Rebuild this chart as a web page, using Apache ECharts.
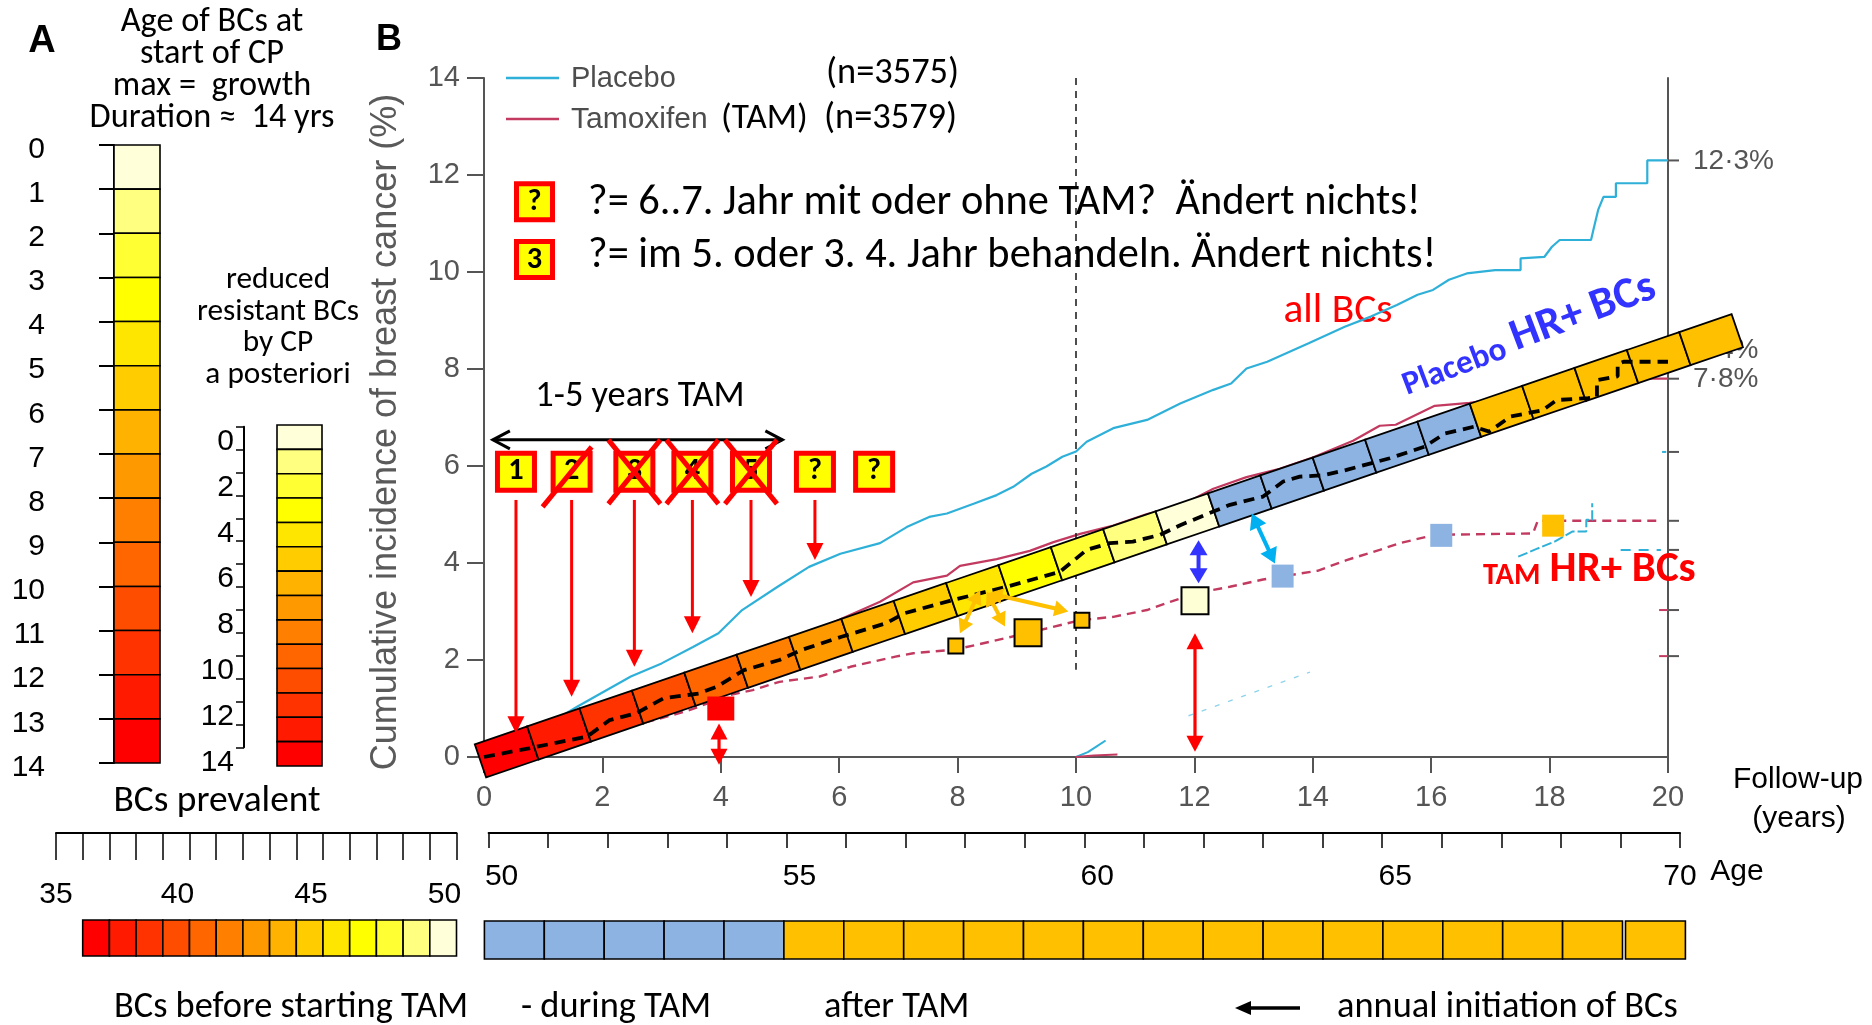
<!DOCTYPE html>
<html>
<head>
<meta charset="utf-8">
<title>Tamoxifen prevention – cumulative incidence and age of breast cancers</title>
<script src="https://cdn.jsdelivr.net/npm/echarts@6/dist/echarts.min.js"></script>
<style>
  html, body { margin: 0; padding: 0; background: #fff; }
  #chart { width: 1872px; height: 1025px; }
</style>
</head>
<body>
<div id="chart"></div>
<script>
// ---------------- Panel B: cumulative incidence of breast cancer (%) vs follow-up (years) ----------------
const followUpTicks = [0, 2, 4, 6, 8, 10, 12, 14, 16, 18, 20];

const placeboAll = [
  [0,0],[0.5,0.3],[1.0,0.62],[1.58,1.04],[1.97,1.31],[2.48,1.66],[3.0,1.93],[3.53,2.27],[3.96,2.55],
  [4.36,3.03],[4.96,3.51],[5.49,3.92],[6.02,4.19],[6.69,4.41],[7.14,4.74],[7.52,4.95],[7.82,5.02],
  [8.27,5.22],[8.66,5.4],[8.94,5.57],[9.25,5.84],[9.5,5.99],[9.77,6.19],[10.0,6.3],[10.18,6.5],
  [10.63,6.78],[11.2,6.95],[11.76,7.29],[12.32,7.57],[12.62,7.7],[12.88,8.01],[13.23,8.15],[13.93,8.53],
  [14.54,8.87],[14.98,9.08],[15.42,9.32],[15.77,9.53],[16.03,9.63],[16.3,9.84],[16.6,9.97],[17.08,10.04],
  [17.51,10.04],[17.51,10.28],[17.91,10.31],[18.04,10.52],[18.17,10.66],[18.7,10.66],[18.74,10.87],
  [18.82,11.28],[18.91,11.55],[19.12,11.55],[19.12,11.83],[19.65,11.83],[19.65,12.3],[20,12.3]
];
const tamoxifenAll = [
  [0,0],[1,0.35],[2,0.8],[3,1.25],[4,1.75],[5,2.25],[5.8,2.72],[6.69,3.2],[7.25,3.6],[7.82,3.74],
  [8.04,3.94],[8.66,4.08],[9.22,4.25],[9.62,4.43],[10.07,4.6],[10.63,4.77],[11.2,5.01],[11.76,5.18],
  [12.32,5.53],[12.88,5.77],[13.44,5.94],[14.01,6.18],[14.68,6.52],[15.13,6.83],[15.4,6.85],[16.06,7.24],
  [16.65,7.3],[17.5,7.45],[18.5,7.6],[19.64,7.8],[20,7.8]
];
// hormone-receptor positive cancers
const placeboHR = [
  [0,0],[0.76,0.18],[1.74,0.42],[2.12,0.76],[2.57,0.9],[3.03,1.21],[3.63,1.31],[3.93,1.45],[4.39,1.79],
  [4.99,2.0],[5.37,2.21],[6.04,2.48],[6.8,2.76],[7.09,2.96],[7.93,3.24],[8.83,3.51],[9.73,3.82],
  [10.18,4.27],[10.57,4.41],[10.96,4.44],[11.42,4.58],[11.76,4.78],[12.32,5.06],[12.6,5.2],[13.16,5.37],
  [13.5,5.68],[13.78,5.78],[14.18,5.81],[14.57,5.92],[15.3,6.16],[15.89,6.4],[16.23,6.67],[16.72,6.81],
  [16.98,6.71],[17.34,7.02],[17.88,7.15],[18.12,7.36],[18.65,7.4],[18.8,7.43],[18.8,7.77],[19.15,7.85],
  [19.15,8.1],[19.25,8.15],[20,8.15]
];
const tamoxifenHR = [
  [0,0],[1,0.25],[2,0.5],[3,0.8],[3.48,0.97],[4.16,1.28],[4.54,1.38],[4.99,1.55],[5.67,1.66],[6.19,1.86],
  [6.95,2.07],[7.25,2.14],[7.93,2.21],[8.31,2.31],[8.91,2.48],[9.5,2.65],[10.07,2.82],[10.63,2.89],
  [11.2,3.03],[11.59,3.2],[12.04,3.38],[12.6,3.51],[13.16,3.66],[14.08,3.84],[14.57,4.06],[15.13,4.27],
  [15.47,4.41],[16.06,4.58],[17.72,4.61],[17.8,4.87],[19.9,4.87]
];
// remnants of further curves
const placeboLowPiece   = [[10.0,0],[10.2,0.1],[10.35,0.22],[10.5,0.34]];
const tamoxifenLowPiece = [[10.0,0],[10.3,0.03],[10.7,0.05]];
const placeboTrace      = [[11.9,0.85],[13.95,1.75]];
const placeboHighPiece  = [[17.47,4.13],[17.8,4.3],[18.1,4.45],[18.39,4.65],[18.62,4.65],[18.62,4.89],[18.72,4.89],[18.72,5.23]];
const placeboEndPiece   = [[19.2,4.27],[19.88,4.27]];
const tamoxifenStubA    = [[19.85,3.03],[20,3.03]];
const tamoxifenStubB    = [[19.85,2.08],[20,2.08]];
const placeboStub       = [[19.9,6.29],[19.97,6.29]];
const landmarkYear = [[10,14],[10,1.8]];

// right-hand axis: end values at 20 years
const rightTicks  = [12.3, 8.4, 7.8, 6.29, 4.87, 4.27, 3.03, 2.08];
const rightLabels = [12.3, 8.4, 7.8];

// diagonal band: one cell per year of tumour initiation (levels 13..0 = age at start of CP)
const bandAxis  = [[-0.06, -0.08], [21.17, 8.79]];
const bandCells = [13,12,11,10,9,8,7,6,5,4,3,2,1,0,'during','during','during','during','during','after','after','after','after','after'];

// treatment-year boxes
const boxYears  = [0.54, 1.48, 2.54, 3.52, 4.51, 5.59, 6.59];
const boxLabels = ['1', '2', '3', '4', '5', '?', '?'];
const boxLevel  = 5.88;
const boxStruck = [0, 1, 2, 2, 2, 0, 0];          // 1 = single stroke, 2 = crossed out
const arrowTop  = 5.3;
const arrowTips = [0.49, 1.24, 1.86, 2.55, 3.3, 4.06];
const tamSpan   = [[0.15, 6.54, 5.04, 6.54]];

// markers and connectors
const redSquare   = [[4.0, 1.0]];
const goldSmall   = [[7.97, 2.29], [10.1, 2.82]];
const goldLarge   = [[9.19, 2.56]];
const paleSquare  = [[12.01, 3.22]];
const blueSquares = [[13.49, 3.73], [16.17, 4.57]];
const goldPlain   = [[18.06, 4.77]];
const redDouble   = [[3.97, 0.69, 3.97, -0.16], [12.01, 2.55, 12.01, 0.11]];
const blueDouble  = [[12.07, 4.47, 12.07, 3.58]];
const cyanDouble  = [[12.97, 5.02, 13.36, 3.99]];
const goldDouble  = [[8.38, 3.44, 8.04, 2.55], [8.49, 3.41, 8.8, 2.69], [8.52, 3.38, 9.87, 3.0]];

// ---------------- Panel A scales ----------------
const ageLevels        = [0,1,2,3,4,5,6,7,8,9,10,11,12,13];
const posterioriLevels = [0,1,2,3,4,5,6,7,8,9,10,11,12,13];
const prevalentAges    = [36,37,38,39,40,41,42,43,44,45,46,47,48,49];
const prevalentLevels  = [13,12,11,10,9,8,7,6,5,4,3,2,1,0];
const annualAges       = [50,51,52,53,54,55,56,57,58,59,60,61,62,63,64,65,66,67,68,69];
const annualPhases     = ['during','during','during','during','during','after','after','after','after','after',
                          'after','after','after','after','after','after','after','after','after','after'];
const detachedAge      = 69;

// ---------------- styling ----------------
const GRADIENT = ['#ffffd9','#ffff80','#ffff33','#ffff00','#ffe600','#ffcc00','#ffb300',
                  '#ff9900','#ff8000','#ff6600','#ff4d00','#ff3300','#ff1a00','#ff0000'];
const PHASE = { during: '#8db3e2', after: '#ffc000' };
const CYAN = '#2fb0d8', CRIMSON = '#c23a60', GOLD = '#ffc000', GRAY = '#555';
const ARIAL = "'Liberation Sans', Arial, Helvetica, sans-serif";
const CAL = "Carlito, Lato, 'Open Sans', sans-serif";
// Carlito shares Calibri's advance widths; any fallback face is scaled to the same widths.
const calFactor = (() => {
  const ctx = document.createElement('canvas').getContext('2d');
  ctx.font = '100px ' + CAL;
  const w = ctx.measureText('annual initiation of BCs').width;
  return Math.min(1.05, 946 / w);
})();
const cs = s => Math.round(s * calFactor * 10) / 10;
const cellColor = c => (typeof c === 'number' ? GRADIENT[c] : PHASE[c]);

// ---------------- series helpers ----------------
function lineSeries(data, color, width, dash, z) {
  return { type: 'line', xAxisIndex: 0, yAxisIndex: 0, data, symbol: 'none', showSymbol: false,
           silent: true, clip: false, z: z || 2, lineStyle: { color, width, type: dash || 'solid' } };
}
function squareSeries(data, w, h, color, bordered) {
  return { type: 'scatter', xAxisIndex: 0, yAxisIndex: 0, data, symbol: 'rect', symbolSize: [w, h],
           silent: true, z: 6, clip: false,
           itemStyle: { color, opacity: 1, borderColor: bordered ? '#000' : color, borderWidth: bordered ? 2 : 0 } };
}
function arrowSeries(list, o) {
  return {
    type: 'custom', xAxisIndex: 0, yAxisIndex: 0, silent: true, clip: false, z: o.z || 7, data: list,
    renderItem(params, api) {
      const a = api.coord([api.value(0), api.value(1)]);
      const b = api.coord([api.value(2), api.value(3)]);
      const dx = b[0] - a[0], dy = b[1] - a[1], L = Math.hypot(dx, dy);
      const ux = dx / L, uy = dy / L, nx = -uy, ny = ux;
      const head = (tip, sgn) => {
        const bx = tip[0] - sgn * ux * o.len, by = tip[1] - sgn * uy * o.len;
        const p1 = [bx + nx * o.half, by + ny * o.half], p2 = [bx - nx * o.half, by - ny * o.half];
        if (o.open) return { type: 'polyline', shape: { points: [p1, tip, p2] }, style: { stroke: o.color, lineWidth: o.width, fill: null } };
        return { type: 'polygon', shape: { points: [tip, p1, p2] }, style: { fill: o.color } };
      };
      const cut = o.open ? 0 : o.len * 0.7;
      const s0 = o.both ? cut : 0;
      const kids = [{ type: 'line', shape: { x1: a[0] + ux * s0, y1: a[1] + uy * s0, x2: b[0] - ux * cut, y2: b[1] - uy * cut },
                      style: { stroke: o.color, lineWidth: o.width } }, head(b, 1)];
      if (o.both) kids.push(head(a, -1));
      return { type: 'group', children: kids };
    }
  };
}
// colour cells of a scale strip (vertical: value along y; horizontal: value along x)
function cellSeries(xIdx, yIdx, items, vertical, colorOf) {
  return {
    type: 'custom', xAxisIndex: xIdx, yAxisIndex: yIdx, silent: true, clip: false, z: 3,
    data: items.map((d, i) => [d, i]),
    renderItem(params, api) {
      const v = api.value(0), i = params.dataIndex;
      let p0, p1;
      if (vertical) { p0 = api.coord([0, v]); p1 = api.coord([1, v + 1]); }
      else { p0 = api.coord([v, 0]); p1 = api.coord([v + 1, 1]); }
      const shift = (!vertical && v >= detachedAge && xIdx === 7) ? 3 : 0;
      return { type: 'rect',
               shape: { x: Math.min(p0[0], p1[0]) + shift, y: Math.min(p0[1], p1[1]),
                        width: Math.abs(p1[0] - p0[0]), height: Math.abs(p1[1] - p0[1]) },
               style: { fill: colorOf(i), stroke: '#000', lineWidth: 1.6 } };
    }
  };
}

const series = [
  // right-hand end-value ticks (under the band)
  {
    type: 'custom', xAxisIndex: 0, yAxisIndex: 0, silent: true, clip: false, z: 1,
    data: rightTicks.map(v => [20, v]),
    renderItem(params, api) {
      const v = api.value(1), p = api.coord([20, v]);
      const kids = [{ type: 'line', shape: { x1: p[0], y1: p[1], x2: p[0] + 11, y2: p[1] }, style: { stroke: GRAY, lineWidth: 2 } }];
      if (rightLabels.indexOf(v) >= 0) {
        kids.push({ type: 'text', x: p[0] + 25, y: p[1] + 1,
          style: { text: v.toFixed(1).replace('.', '\u00b7') + '%', fontSize: 28, fontFamily: ARIAL, fill: GRAY,
                   align: 'left', verticalAlign: 'middle' } });
      }
      return { type: 'group', children: kids };
    }
  },
  lineSeries(placeboAll, CYAN, 2.2),
  lineSeries(tamoxifenAll, CRIMSON, 2.2),
  lineSeries(tamoxifenHR, CRIMSON, 2.4, [9, 6]),
  lineSeries(placeboLowPiece, CYAN, 2),
  lineSeries(tamoxifenLowPiece, CRIMSON, 2),
  lineSeries(placeboTrace, '#8fd3ea', 1.4, [5, 9]),
  lineSeries(placeboHighPiece, CYAN, 2, [10, 3]),
  lineSeries(placeboEndPiece, CYAN, 2, [10, 8]),
  lineSeries(tamoxifenStubA, CRIMSON, 2),
  lineSeries(tamoxifenStubB, CRIMSON, 2),
  lineSeries(placeboStub, CYAN, 2),
  lineSeries(landmarkYear, '#222', 1.6, [7, 6]),
  // the band of yearly cells
  {
    type: 'custom', xAxisIndex: 0, yAxisIndex: 0, silent: true, clip: false, z: 3,
    data: bandCells.map((c, i) => [i, 0]),
    renderItem(params, api) {
      const i = params.dataIndex, n = bandCells.length, half = 17.5;
      const p0 = api.coord(bandAxis[0]), p1 = api.coord(bandAxis[1]);
      const dx = p1[0] - p0[0], dy = p1[1] - p0[1], L = Math.hypot(dx, dy);
      const ux = dx / L, uy = dy / L, nx = uy, ny = -ux;
      const at = t => [p0[0] + ux * L * t, p0[1] + uy * L * t];
      const a = at(i / n), b = at((i + 1) / n);
      return { type: 'polygon',
               shape: { points: [[a[0] + nx * half, a[1] + ny * half], [b[0] + nx * half, b[1] + ny * half],
                                 [b[0] - nx * half, b[1] - ny * half], [a[0] - nx * half, a[1] - ny * half]] },
               style: { fill: cellColor(bandCells[i]), stroke: '#000', lineWidth: 1.8, lineJoin: 'miter' } };
    }
  },
  lineSeries(placeboHR, '#000', 3.8, [11, 7], 4),
  squareSeries(redSquare, 27, 24, '#ff0000', false),
  squareSeries(goldSmall, 15, 15, GOLD, true),
  squareSeries(goldLarge, 27, 27, GOLD, true),
  squareSeries(paleSquare, 27, 27, '#ffffd5', true),
  squareSeries(blueSquares, 22, 23, PHASE.during, false),
  squareSeries(goldPlain, 22, 22, GOLD, false),
  arrowSeries(boxYears.slice(0, arrowTips.length).map((x, i) => [x, arrowTop, x, arrowTips[i]]),
              { color: '#ff0000', width: 3, len: 17, half: 8.5 }),
  arrowSeries(redDouble, { color: '#ff0000', width: 3.2, len: 16, half: 8.5, both: true }),
  arrowSeries(blueDouble, { color: '#3333ff', width: 4, len: 15, half: 9, both: true }),
  arrowSeries(cyanDouble, { color: '#00b0f0', width: 4, len: 15, half: 9, both: true }),
  arrowSeries(goldDouble, { color: GOLD, width: 4, len: 14, half: 8, both: true }),
  arrowSeries(tamSpan, { color: '#000', width: 3, len: 17, half: 9, both: true, open: true }),
  // treatment-year boxes
  {
    type: 'scatter', xAxisIndex: 0, yAxisIndex: 0, silent: true, z: 8,
    data: boxYears.map((x, i) => [x, boxLevel, boxLabels[i]]),
    symbol: 'rect', symbolSize: [37, 37],
    itemStyle: { color: '#ffff00', borderColor: '#ff0000', borderWidth: 5, opacity: 1 },
    label: { show: true, position: 'inside', formatter: p => p.value[2], color: '#000',
             fontSize: cs(30), fontWeight: 'bold', fontFamily: CAL }
  },
  {
    type: 'custom', xAxisIndex: 0, yAxisIndex: 0, silent: true, clip: false, z: 9,
    data: boxYears.map((x, i) => [x, boxLevel, boxStruck[i]]).filter(d => d[2] > 0),
    renderItem(params, api) {
      const c = api.coord([api.value(0), api.value(1)]), k = api.value(2);
      const st = { stroke: '#ff0000', lineWidth: 5 };
      const seg = (x1, y1, x2, y2) => ({ type: 'line', shape: { x1: c[0] + x1, y1: c[1] + y1, x2: c[0] + x2, y2: c[1] + y2 }, style: st });
      const kids = k === 1 ? [seg(-29, 35, 20, -25)] : [seg(-26, -32, 26, 32), seg(-26, 32, 26, -32)];
      return { type: 'group', children: kids };
    }
  },
  // panel A and bottom scales
  cellSeries(1, 2, ageLevels, true, i => GRADIENT[ageLevels[i]]),
  cellSeries(3, 4, posterioriLevels, true, i => GRADIENT[posterioriLevels[i]]),
  cellSeries(5, 6, prevalentAges, false, i => GRADIENT[prevalentLevels[i]]),
  cellSeries(7, 8, annualAges, false, i => PHASE[annualPhases[i]])
];

// ---------------- axes ----------------
const hiddenX = (gridIndex, min, max) => ({ type: 'value', gridIndex, min, max, show: false });
const hiddenY = (gridIndex, min, max, inverse) => ({ type: 'value', gridIndex, min, max, inverse: !!inverse, show: false });
const scaleFont = { fontSize: 30, fontFamily: ARIAL, color: '#000' };

const xAxis = [
  { type: 'value', gridIndex: 0, min: 0, max: 20, interval: 2,
    axisLine: { show: true, lineStyle: { color: GRAY, width: 2 } },
    axisTick: { show: true, length: 16, lineStyle: { color: GRAY, width: 2 } },
    axisLabel: { fontSize: 29, fontFamily: ARIAL, color: GRAY, margin: 26 },
    splitLine: { show: false } },
  hiddenX(1, 0, 1), hiddenX(2, 0, 1), hiddenX(3, 0, 1),
  { type: 'value', gridIndex: 4, min: 35, max: 50, interval: 1,
    axisLine: { show: true, lineStyle: { color: '#000', width: 2 } },
    axisTick: { show: true, length: 27, lineStyle: { color: '#000', width: 1.5 } },
    axisLabel: { formatter: v => (v % 5 !== 0 ? '' : v === 35 ? '{c|35}' : '{l|' + v + '}'),
                 margin: 47, ...scaleFont,
                 rich: { c: { ...scaleFont }, l: { ...scaleFont, padding: [0, 24, 0, 0] } } },
    splitLine: { show: false } },
  hiddenX(5, 35, 50),
  { type: 'value', gridIndex: 6, min: 50, max: 70, interval: 1,
    axisLine: { show: true, lineStyle: { color: '#000', width: 2 } },
    axisTick: { show: true, length: 15, lineStyle: { color: '#000', width: 1.5 } },
    axisLabel: { formatter: v => (v % 5 !== 0 ? '' : v === 70 ? '{c|70}' : '{r|' + v + '}'),
                 margin: 29, ...scaleFont,
                 rich: { c: { ...scaleFont }, r: { ...scaleFont, padding: [0, 0, 0, 26] } } },
    splitLine: { show: false } },
  hiddenX(7, 50, 70)
];
const yAxis = [
  { type: 'value', gridIndex: 0, min: 0, max: 14, interval: 2, position: 'left',
    axisLine: { show: true, lineStyle: { color: GRAY, width: 2 } },
    axisTick: { show: true, length: 17, lineStyle: { color: GRAY, width: 2 } },
    axisLabel: { fontSize: 29, fontFamily: ARIAL, color: GRAY, margin: 24 },
    splitLine: { show: false } },
  { type: 'value', gridIndex: 0, min: 0, max: 14, position: 'right',
    axisLine: { show: true, onZero: false, lineStyle: { color: GRAY, width: 2 } },
    axisTick: { show: false }, axisLabel: { show: false }, splitLine: { show: false } },
  { type: 'value', gridIndex: 1, min: 0, max: 14, interval: 1, inverse: true, position: 'left', offset: 22,
    axisLine: { show: true, lineStyle: { color: '#000', width: 2 } },
    axisTick: { show: true, length: 15, lineStyle: { color: '#000', width: 2 } },
    axisLabel: { formatter: v => '{d|' + v + '}', ...scaleFont, margin: 47,
                 rich: { d: { ...scaleFont, padding: [9, 0, 0, 0] } } },
    splitLine: { show: false } },
  { type: 'value', gridIndex: 2, min: 0, max: 14, interval: 1, inverse: true, position: 'left',
    axisLine: { show: true, lineStyle: { color: '#000', width: 2 } },
    axisTick: { show: true, length: 8, lineStyle: { color: '#000', width: 1.5 } },
    axisLabel: { formatter: v => (v % 2 === 0 ? String(v) : ''), ...scaleFont, margin: 10, verticalAlign: 'top' },
    splitLine: { show: false } },
  hiddenY(3, 0, 14, true),
  hiddenY(4, 0, 1), hiddenY(5, 0, 1), hiddenY(6, 0, 1), hiddenY(7, 0, 1)
];
const grid = [
  { left: 484, top: 78, width: 1184, height: 679 },
  { left: 114, top: 145, width: 46, height: 618 },
  { left: 244, top: 426.7, width: 1, height: 320.6 },
  { left: 277, top: 425, width: 45, height: 341 },
  { left: 56, top: 800, width: 400.5, height: 33 },
  { left: 56, top: 920, width: 400.5, height: 36 },
  { left: 488.6, top: 800, width: 1191.4, height: 33 },
  { left: 484.4, top: 921, width: 1198, height: 38 }
];
// attach the cell strips to their hidden y axes
series[series.length - 4].yAxisIndex = 2;
series[series.length - 3].yAxisIndex = 4;
series[series.length - 2].yAxisIndex = 6;
series[series.length - 1].yAxisIndex = 8;

// ---------------- text and decorations ----------------
function label(x, y, text, size, o) {
  o = o || {};
  const align = o.align || 'center', valign = o.valign || 'middle';
  return { type: 'text', x, y, rotation: o.rot || 0, silent: true, z: o.z == null ? 10 : o.z,
    style: { text, fontSize: size, fontFamily: o.family || CAL, fontWeight: o.bold ? 'bold' : 'normal',
             fill: o.color || '#000', align, verticalAlign: valign, textAlign: align, textVerticalAlign: valign,
             rich: o.rich } };
}
function keyBox(cx, cy, text) {
  return [
    { type: 'rect', shape: { x: cx - 18, y: cy - 18, width: 36, height: 36 }, silent: true, z: 10,
      style: { fill: '#ffff00', stroke: '#ff0000', lineWidth: 5 } },
    label(cx, cy + 1, text, cs(30), { bold: true })
  ];
}
const elements = [
  label(42, 42, 'A', 38, { family: ARIAL, bold: true }),
  label(389, 40, 'B', 36, { family: ARIAL, bold: true }),
  label(212, 22, 'Age of BCs at', cs(34)),
  label(212, 54, 'start of CP', cs(34)),
  label(212, 86, 'max =  growth', cs(34)),
  label(212, 118, 'Duration \u2248  14 yrs', cs(34)),
  label(278, 280, 'reduced', cs(31)),
  label(278, 312, 'resistant BCs', cs(31)),
  label(278, 343, 'by CP', cs(31)),
  label(278, 375, 'a posteriori', cs(31)),
  label(217, 802, 'BCs prevalent', cs(37)),
  // legend
  { type: 'line', shape: { x1: 506, y1: 78, x2: 559, y2: 78 }, style: { stroke: CYAN, lineWidth: 2.5 }, silent: true, z: 10 },
  { type: 'line', shape: { x1: 506, y1: 119, x2: 559, y2: 119 }, style: { stroke: CRIMSON, lineWidth: 2.5 }, silent: true, z: 10 },
  label(571, 79, 'Placebo', 29, { family: ARIAL, color: '#4d4d4d', align: 'left' }),
  label(571, 120, 'Tamoxifen', 30, { family: ARIAL, color: '#4d4d4d', align: 'left' }),
  label(721, 119, '(TAM)', cs(35), { align: 'left' }),
  label(826, 74, '(n=3575)', cs(36), { align: 'left' }),
  label(824, 119, '(n=3579)', cs(36), { align: 'left' }),
  ...keyBox(534.5, 201.7, '?'),
  ...keyBox(534.5, 259.5, '3'),
  label(588, 203, '?= 6..7. Jahr mit oder ohne TAM?  \u00c4ndert nichts!', cs(42), { align: 'left' }),
  label(588, 256, '?= im 5. oder 3. 4. Jahr behandeln. \u00c4ndert nichts!', cs(42), { align: 'left' }),
  label(640, 397, '1-5 years TAM', cs(36)),
  label(1338, 312, 'all BCs', cs(41), { color: '#ff0000', z: 1 }),
  label(1528, 334, '{a|Placebo} {b|HR+ BCs}', cs(40), {
    bold: true, color: '#3333ff', rot: 20.7 * Math.PI / 180,
    rich: { a: { fontSize: cs(33), fontWeight: 'bold', fontFamily: CAL, fill: '#3333ff', verticalAlign: 'bottom' },
            b: { fontSize: cs(44), fontWeight: 'bold', fontFamily: CAL, fill: '#3333ff', verticalAlign: 'bottom' } } }),
  label(1483, 570, '{a|TAM} {b|HR+ BCs}', cs(40), {
    bold: true, color: '#ff0000', align: 'left',
    rich: { a: { fontSize: cs(30), fontWeight: 'bold', fontFamily: CAL, fill: '#ff0000', verticalAlign: 'bottom' },
            b: { fontSize: cs(42.5), fontWeight: 'bold', fontFamily: CAL, fill: '#ff0000', verticalAlign: 'bottom' } } }),
  label(386, 432, 'Cumulative incidence of breast cancer (%)', 36, { family: ARIAL, color: '#5a5a5a', rot: Math.PI / 2 }),
  label(1798, 780, 'Follow-up', 30, { family: ARIAL }),
  label(1799, 819, '(years)', 30, { family: ARIAL }),
  label(1737, 872, 'Age', 30, { family: ARIAL }),
  // bottom captions
  label(291, 1008, 'BCs before starting TAM', cs(36)),
  label(521, 1008, '- during TAM', cs(36), { align: 'left' }),
  label(824, 1008, 'after TAM', cs(36), { align: 'left' }),
  { type: 'line', shape: { x1: 1248, y1: 1008, x2: 1300, y2: 1008 }, style: { stroke: '#000', lineWidth: 3.5 }, silent: true, z: 10 },
  { type: 'polygon', shape: { points: [[1235, 1008], [1251, 1001], [1251, 1015]] }, style: { fill: '#000' }, silent: true, z: 10 },
  label(1337, 1008, 'annual initiation of BCs', cs(36), { align: 'left' })
];

const chart = echarts.init(document.getElementById('chart'), null, { renderer: 'canvas', width: 1872, height: 1025 });
chart.setOption({
  animation: false,
  backgroundColor: '#fff',
  grid, xAxis, yAxis, series,
  graphic: { elements }
});
</script>
</body>
</html>
